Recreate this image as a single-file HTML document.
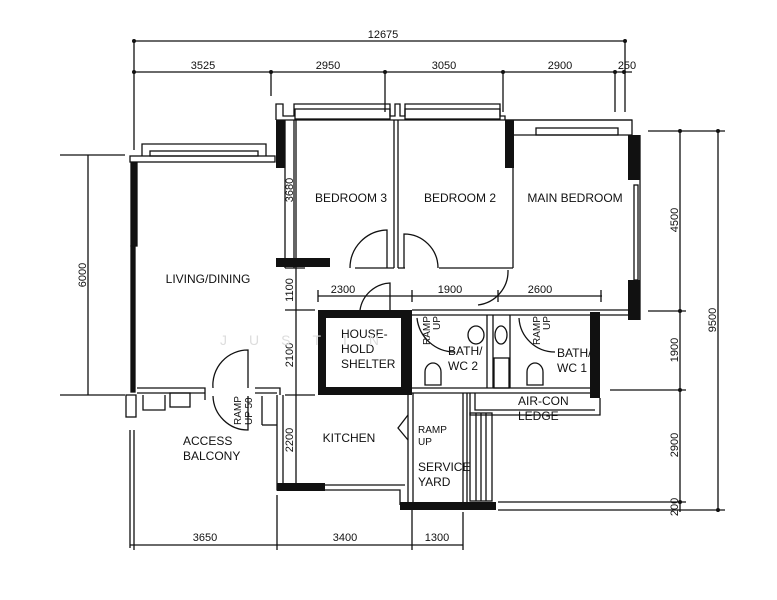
<!DOCTYPE html>
<html><head><meta charset="utf-8"><style>
html,body{margin:0;padding:0;background:#fff;}
svg{display:block;}
text{font-family:"Liberation Sans Narrow","Liberation Sans",sans-serif;fill:#111;}
</style></head><body>
<svg width="777" height="600" viewBox="0 0 777 600" xmlns="http://www.w3.org/2000/svg">
<g stroke="#111" stroke-width="1.3" fill="none">
<line x1="134" y1="41" x2="625" y2="41"/>
<line x1="134" y1="72" x2="632" y2="72"/>
<line x1="134" y1="41" x2="134" y2="150"/>
<line x1="625" y1="41" x2="625" y2="112"/>
<line x1="271" y1="72" x2="271" y2="96"/>
<line x1="385" y1="72" x2="385" y2="112"/>
<line x1="503" y1="72" x2="503" y2="112"/>
<line x1="615" y1="72" x2="615" y2="112"/>
<line x1="130" y1="545" x2="463" y2="545"/>
<line x1="134" y1="430" x2="134" y2="550"/>
<line x1="277" y1="495" x2="277" y2="550"/>
<line x1="412" y1="505" x2="412" y2="550"/>
<line x1="463" y1="512" x2="463" y2="550"/>
<line x1="88" y1="155" x2="88" y2="395"/>
<line x1="60" y1="155" x2="125" y2="155"/>
<line x1="60" y1="395" x2="125" y2="395"/>
<line x1="680" y1="130" x2="680" y2="512"/>
<line x1="718" y1="130" x2="718" y2="512"/>
<line x1="648" y1="131" x2="725" y2="131"/>
<line x1="648" y1="311" x2="686" y2="311"/>
<line x1="610" y1="390" x2="686" y2="390"/>
<line x1="498" y1="502" x2="686" y2="502"/>
<line x1="498" y1="510" x2="725" y2="510"/>
<line x1="296" y1="120" x2="296" y2="490"/>
<line x1="285" y1="268" x2="305" y2="268"/>
<line x1="285" y1="310" x2="315" y2="310"/>
<line x1="285" y1="395" x2="315" y2="395"/>
<line x1="318" y1="296" x2="602" y2="296"/>
<line x1="318" y1="290" x2="318" y2="302"/>
<line x1="412" y1="290" x2="412" y2="302"/>
<line x1="498" y1="290" x2="498" y2="302"/>
<line x1="601" y1="290" x2="601" y2="302"/>
</g>
<g fill="#111">
<circle cx="134" cy="41" r="2"/><circle cx="625" cy="41" r="2"/>
<circle cx="134" cy="72" r="2"/><circle cx="271" cy="72" r="2"/><circle cx="385" cy="72" r="2"/><circle cx="503" cy="72" r="2"/><circle cx="615" cy="72" r="2"/><circle cx="624" cy="72" r="2"/>
<circle cx="680" cy="131" r="2"/><circle cx="680" cy="311" r="2"/><circle cx="680" cy="390" r="2"/><circle cx="680" cy="502" r="2"/><circle cx="718" cy="131" r="2"/><circle cx="718" cy="510" r="2"/>
</g>
<g font-size="11">
<text x="383" y="38" text-anchor="middle">12675</text>
<text x="203" y="69" text-anchor="middle">3525</text>
<text x="328" y="69" text-anchor="middle">2950</text>
<text x="444" y="69" text-anchor="middle">3050</text>
<text x="560" y="69" text-anchor="middle">2900</text>
<text x="627" y="69" text-anchor="middle">250</text>
<text x="205" y="541" text-anchor="middle">3650</text>
<text x="345" y="541" text-anchor="middle">3400</text>
<text x="437" y="541" text-anchor="middle">1300</text>
<text x="343" y="293" text-anchor="middle">2300</text>
<text x="450" y="293" text-anchor="middle">1900</text>
<text x="540" y="293" text-anchor="middle">2600</text>
<text transform="translate(86,275) rotate(-90)" text-anchor="middle">6000</text>
<text transform="translate(293,190) rotate(-90)" text-anchor="middle">3680</text>
<text transform="translate(293,290) rotate(-90)" text-anchor="middle">1100</text>
<text transform="translate(293,355) rotate(-90)" text-anchor="middle">2100</text>
<text transform="translate(293,440) rotate(-90)" text-anchor="middle">2200</text>
<text transform="translate(678,220) rotate(-90)" text-anchor="middle">4500</text>
<text transform="translate(678,350) rotate(-90)" text-anchor="middle">1900</text>
<text transform="translate(678,445) rotate(-90)" text-anchor="middle">2900</text>
<text transform="translate(678,507) rotate(-90)" text-anchor="middle">200</text>
<text transform="translate(716,320) rotate(-90)" text-anchor="middle">9500</text>
</g>
<g stroke="#111" stroke-width="1.3" fill="none">
<rect x="131" y="162" width="6" height="84" fill="#111"/>
<rect x="131" y="246" width="4" height="146" fill="#111"/>
<rect x="130" y="156" width="145" height="6" fill="#fff"/>
<polyline points="142,156 142,144 266,144 266,156"/>
<rect x="150" y="151" width="108" height="5"/>
<polyline points="276,120 276,104 283,104 283,116 294,116 294,104 390,104 390,116 395,116 395,104 400,104 400,116 405,116 405,104 500,104 500,116 505,116 505,120"/>
<rect x="295" y="109" width="95" height="10"/>
<rect x="405" y="109" width="95" height="10"/>
<line x1="276" y1="120" x2="632" y2="120"/>
<polyline points="505,120 505,120 632,120 632,135"/>
<rect x="536" y="128" width="82" height="7"/>
<line x1="513" y1="135" x2="632" y2="135"/>
<line x1="285" y1="120" x2="285" y2="268"/>
<line x1="294" y1="120" x2="294" y2="268"/>
<line x1="394" y1="120" x2="394" y2="268"/>
<line x1="398" y1="120" x2="398" y2="268"/>
<line x1="513" y1="120" x2="513" y2="268"/>
<line x1="640" y1="135" x2="640" y2="320"/>
<rect x="634" y="185" width="4" height="95"/>
<line x1="439" y1="268" x2="513" y2="268"/>
<line x1="355" y1="268" x2="394" y2="268"/>
<line x1="398" y1="268" x2="405" y2="268"/>
<path d="M350 268 A38 38 0 0 1 387 230 L387 268"/>
<path d="M438 268 A34 34 0 0 0 404 234 L404 268"/>
<path d="M508 270 A34 34 0 0 1 478 305"/>
<path d="M360 310 A32 32 0 0 1 390 283 L390 310"/>
<line x1="412" y1="310" x2="640" y2="310"/>
<line x1="412" y1="315" x2="632" y2="315"/>
<line x1="487" y1="315" x2="487" y2="388"/>
<line x1="493" y1="315" x2="493" y2="388"/>
<line x1="510" y1="315" x2="510" y2="388"/>
<rect x="494" y="358" width="15" height="30"/>
<ellipse cx="501" cy="335" rx="6" ry="9"/>
<ellipse cx="476" cy="335" rx="8" ry="9"/>
<path d="M425 385 L425 372 A8 9 0 0 1 441 372 L441 385 Z"/>
<path d="M527 385 L527 372 A8 9 0 0 1 543 372 L543 385 Z"/>
<path d="M417 318 A38 38 0 0 0 455 352"/>
<path d="M519 318 A36 36 0 0 0 555 352"/>
<line x1="412" y1="388" x2="598" y2="388"/>
<line x1="412" y1="393" x2="598" y2="393"/>
<polyline points="470,393 470,415 600,415 600,398"/>
<polyline points="475,393 475,410 595,410"/>
<rect x="470" y="413" width="22" height="88"/>
<line x1="476" y1="413" x2="476" y2="501"/><line x1="481" y1="413" x2="481" y2="501"/><line x1="486" y1="413" x2="486" y2="501"/>
<line x1="408" y1="393" x2="408" y2="505"/>
<line x1="413" y1="393" x2="413" y2="505"/>
<line x1="463" y1="393" x2="463" y2="502"/>
<line x1="467" y1="393" x2="467" y2="502"/>
<path d="M408 415 L398 428 L408 440"/>
<polyline points="277,395 277,490 325,490 400,490 400,505"/>
<line x1="283" y1="395" x2="283" y2="485"/>
<line x1="325" y1="485" x2="405" y2="485"/>
<polyline points="137,388 205,388 205,400"/>
<polyline points="137,393 205,393"/>
<polyline points="255,388 280,388 280,395"/>
<line x1="255" y1="393" x2="277" y2="393"/>
<rect x="170" y="393" width="20" height="14"/>
<polyline points="143,395 143,410 165,410 165,395"/>
<rect x="126" y="395" width="10" height="22"/>
<path d="M213 388 A35 35 0 0 1 248 350 L248 388"/>
<path d="M213 396 A35 35 0 0 0 248 430 L248 396"/>
<line x1="262" y1="396" x2="262" y2="425"/>
<line x1="262" y1="425" x2="277" y2="425"/>
<line x1="130" y1="430" x2="130" y2="548"/>
</g>
<g fill="#111">
<rect x="276" y="120" width="9" height="48"/>
<rect x="276" y="258" width="54" height="9"/>
<rect x="505" y="120" width="9" height="48"/>
<rect x="628" y="135" width="12" height="45"/>
<rect x="628" y="280" width="12" height="40"/>
<path d="M318 310 h90 v85 h-90 Z M326 318 v69 h75 v-69 Z" fill-rule="evenodd"/>
<rect x="590" y="312" width="10" height="86"/>
<rect x="404" y="310" width="8" height="85"/>
<rect x="277" y="483" width="48" height="8"/>
<rect x="400" y="502" width="96" height="8"/>
</g>
<g font-size="12">
<text x="351" y="202" text-anchor="middle">BEDROOM 3</text>
<text x="460" y="202" text-anchor="middle">BEDROOM 2</text>
<text x="575" y="202" text-anchor="middle">MAIN BEDROOM</text>
<text x="208" y="283" text-anchor="middle">LIVING/DINING</text>
<text x="341" y="338">HOUSE-</text>
<text x="341" y="353">HOLD</text>
<text x="341" y="368">SHELTER</text>
<text x="448" y="355">BATH/</text>
<text x="448" y="370">WC 2</text>
<text x="557" y="357">BATH/</text>
<text x="557" y="372">WC 1</text>
<text x="518" y="405">AIR-CON</text>
<text x="518" y="420">LEDGE</text>
<text x="349" y="442" text-anchor="middle">KITCHEN</text>
<text x="418" y="471">SERVICE</text>
<text x="418" y="486">YARD</text>
<text x="183" y="445">ACCESS</text>
<text x="183" y="460">BALCONY</text>
</g>
<g font-size="10">
<text x="418" y="433">RAMP</text>
<text x="418" y="445">UP</text>
<text transform="translate(430,345) rotate(-90)">RAMP</text>
<text transform="translate(440,330) rotate(-90)">UP</text>
<text transform="translate(540,345) rotate(-90)">RAMP</text>
<text transform="translate(550,330) rotate(-90)">UP</text>
<text transform="translate(241,425) rotate(-90)">RAMP</text>
<text transform="translate(252,425) rotate(-90)">UP 50</text>
</g>
<text x="220" y="345" font-size="14" style="fill:#ddd" letter-spacing="22">JUSTIN</text>
</svg>
</body></html>
